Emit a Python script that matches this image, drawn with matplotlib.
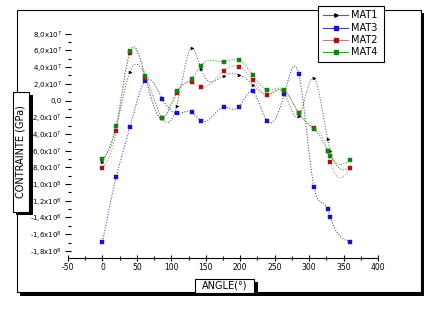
import numpy as np
import matplotlib
matplotlib.use("Agg")
import matplotlib.pyplot as plt
from matplotlib.patches import Rectangle
from matplotlib.lines import Line2D

# Angles (degrees) and stress values (units of 1e7) for each material
angle = [0, 20, 40, 62, 87, 108, 130, 143, 176, 198, 218, 239, 264, 285, 307, 327, 331, 360]
mat1 = [-7.36, -3.1, 3.46, 2.98, -2.15, -0.6, 6.32, 3.78, 2.98, 3.1, 1.9, 0.7, 0.8, -1.9, 2.7, -4.65, -6.0, -8.0]
mat3 = [-16.9, -9.15, -3.18, 2.39, 0.2, -1.55, -1.43, -2.47, -0.8, -0.8, 1.1, -2.47, 0.8, 3.18, -10.34, -13.0, -14.0, -16.9]
mat2 = [-8.1, -3.7, 5.72, 2.74, -2.15, 0.95, 2.18, 1.59, 3.58, 4.05, 2.47, 0.72, 1.19, -1.55, -3.34, -6.05, -7.36, -8.07]
mat4 = [-7.04, -3.1, 5.88, 2.98, -2.15, 1.1, 2.62, 4.17, 4.65, 4.85, 3.1, 1.28, 1.28, -1.5, -3.37, -6.0, -6.68, -7.16]
series_names = ["MAT1", "MAT3", "MAT2", "MAT4"]

ytick_vals = [8, 6, 4, 2, 0, -2, -4, -6, -8, -10, -12, -14, -16, -18]
ytick_labels = [r"8,0x10$^{7}$", r"6,0x10$^{7}$", r"4,0x10$^{7}$", r"2,0x10$^{7}$", "0,0",
                r"-2,0x10$^{7}$", r"-4,0x10$^{7}$", r"-6,0x10$^{7}$", r"-8,0x10$^{7}$",
                r"-1,0x10$^{8}$", r"-1,2x10$^{8}$", r"-1,4x10$^{8}$", r"-1,6x10$^{8}$", r"-1,8x10$^{8}$"]
xtick_vals = [-50, 0, 50, 100, 150, 200, 250, 300, 350, 400]


def natural_spline(x, y, xs):
    """Natural cubic spline through (x, y), evaluated at xs."""
    x = np.asarray(x, float)
    y = np.asarray(y, float)
    n = len(x)
    h = np.diff(x)
    A = np.zeros((n, n))
    b = np.zeros(n)
    A[0, 0] = A[-1, -1] = 1.0
    for i in range(1, n - 1):
        A[i, i - 1] = h[i - 1]
        A[i, i] = 2 * (h[i - 1] + h[i])
        A[i, i + 1] = h[i]
        b[i] = 6 * ((y[i + 1] - y[i]) / h[i] - (y[i] - y[i - 1]) / h[i - 1])
    M = np.linalg.solve(A, b)
    idx = np.clip(np.searchsorted(x, xs) - 1, 0, n - 2)
    x0, x1 = x[idx], x[idx + 1]
    hh = x1 - x0
    t0 = x1 - xs
    t1 = xs - x0
    return (M[idx] * t0 ** 3 / (6 * hh) + M[idx + 1] * t1 ** 3 / (6 * hh)
            + (y[idx] / hh - M[idx] * hh / 6) * t0
            + (y[idx + 1] / hh - M[idx + 1] * hh / 6) * t1)


W, H = 438, 323
fig = plt.figure(figsize=(W / 100, H / 100), dpi=100)
fig.patch.set_facecolor("white")


def px_rect(x0, y0, x1, y1, **kw):
    return Rectangle((x0 / W, 1 - y1 / H), (x1 - x0) / W, (y1 - y0) / H,
                     transform=fig.transFigure, **kw)


# page frame with drop shadow
fig.patches.append(px_rect(20, 13, 424, 296, facecolor="black", edgecolor="none", zorder=0))
fig.patches.append(px_rect(17, 10, 421, 292, facecolor="white", edgecolor="black", lw=0.8, zorder=0.5))

ax = fig.add_axes([68 / W, 1 - 258 / H, 310 / W, (258 - 27) / H])
ax.set_zorder(2)
ax.set_facecolor("none")
ax.set_xlim(-50, 400)
ax.set_ylim(-18.85, 8.8)

styles = [
    dict(color="#606060", mcolor="black", marker=">"),
    dict(color="#3a3aa8", mcolor="#1515b8", marker="s"),
    dict(color="#c88080", mcolor="#a01515", marker="s"),
    dict(color="#30a030", mcolor="#158015", marker="s"),
]
xs = np.linspace(angle[0], angle[-1], 800)
for vals, st in zip([mat1, mat3, mat2, mat4], styles):
    ys = natural_spline(angle, vals, xs)
    ax.plot(xs, ys, color=st["color"], lw=0.75, ls=(0, (1, 1.6)), zorder=2)
    ax.plot(angle, vals, ls="none", marker=st["marker"], ms=2.2, mfc=st["mcolor"],
            mec=st["mcolor"], mew=0.3, zorder=3)

for s in ["top", "right", "left"]:
    ax.spines[s].set_visible(False)
ax.spines["bottom"].set_linewidth(0.8)

ax.set_xticks(xtick_vals)
ax.set_xticklabels([str(v) for v in xtick_vals])
ax.set_xticks(np.arange(-25, 400, 50), minor=True)
ax.set_yticks(ytick_vals)
ax.set_yticklabels(ytick_labels)
ax.set_yticks(np.arange(-17, 8, 2), minor=True)
ax.tick_params(axis="x", which="major", direction="inout", length=5, width=0.8, labelsize=5.5, pad=1)
ax.tick_params(axis="x", which="minor", direction="inout", length=3, width=0.8)
ax.tick_params(axis="y", which="major", direction="inout", length=5, width=0.8, labelsize=5, pad=2)
ax.tick_params(axis="y", which="minor", direction="in", length=2.5, width=0.8)

# legend box
fig.patches.append(px_rect(318, 6, 384, 62, facecolor="white", edgecolor="black", lw=0.8, zorder=5))
leg_y = [15, 28, 40, 52]
for name, st, yy in zip(series_names, styles, leg_y):
    fig.lines.append(Line2D([323 / W, 348 / W], [1 - yy / H] * 2, transform=fig.transFigure,
                            color=st["color"], lw=0.8, zorder=6))
    fig.lines.append(Line2D([336 / W], [1 - yy / H], transform=fig.transFigure, marker=st["marker"],
                            ms=2.4, mfc=st["mcolor"], mec=st["mcolor"], ls="none", zorder=7))
    fig.text(351 / W, 1 - yy / H, name, fontsize=7, va="center", ha="left", zorder=7)

# y axis title box
fig.patches.append(px_rect(16, 95, 33, 215, facecolor="black", edgecolor="none", zorder=5))
fig.patches.append(px_rect(13, 92, 29, 212, facecolor="white", edgecolor="black", lw=0.8, zorder=6))
fig.text(21 / W, 1 - 152 / H, "CONTRAINTE (GPa)", rotation=90, fontsize=7,
         ha="center", va="center", zorder=7)

# x axis title box
fig.patches.append(px_rect(198, 282, 258, 296, facecolor="black", edgecolor="none", zorder=5))
fig.patches.append(px_rect(195, 279, 254, 293, facecolor="white", edgecolor="black", lw=0.8, zorder=6))
fig.text(224.5 / W, 1 - 286 / H, "ANGLE(°)", fontsize=7, ha="center", va="center", zorder=7)

fig.savefig("out.png", dpi=100)
